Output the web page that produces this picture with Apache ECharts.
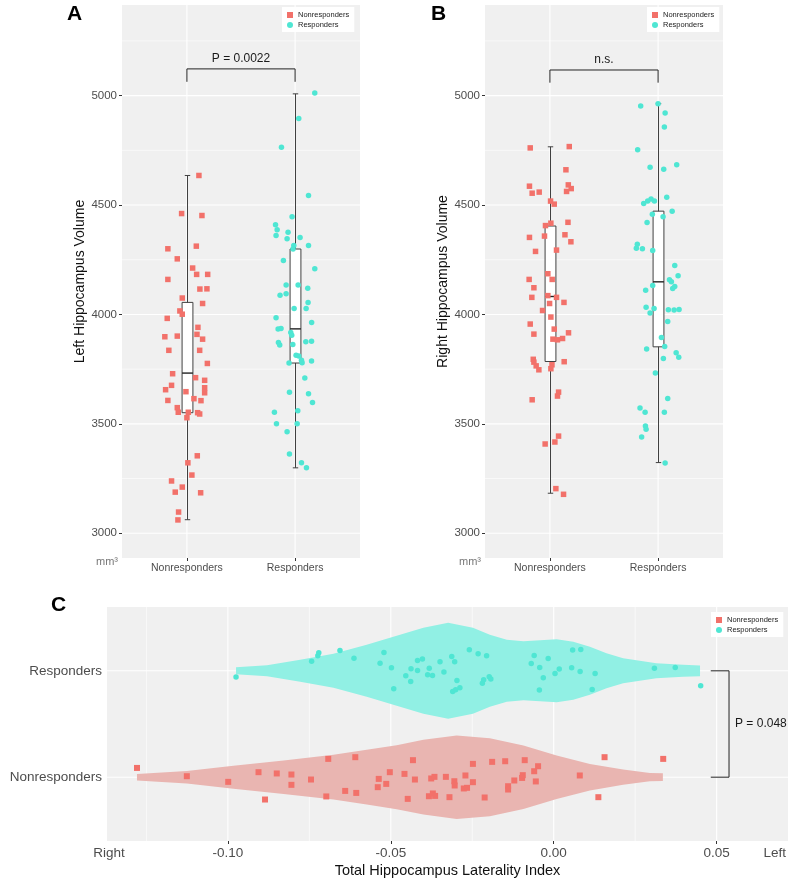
<!DOCTYPE html>
<html>
<head>
<meta charset="utf-8">
<script src="https://cdn.jsdelivr.net/npm/echarts@6/dist/echarts.min.js"></script>
<style>
html,body{margin:0;padding:0;background:#fff;}
#chart{width:790px;height:883px;}
</style>
</head>
<body>
<div id="chart"></div>
<script>
// ---------------- DATA ----------------
const categories = ['Nonresponders', 'Responders'];
const yTicksAB = [3000, 3500, 4000, 4500, 5000];
const yMinorAB = [3250, 3750, 4250, 4750, 5250];
const xTicksC = [-0.10, -0.05, 0.00, 0.05];
const xTickLabelsC = ['-0.10', '-0.05', '0.00', '0.05'];
const xMinorC = [-0.125, -0.075, -0.025, 0.025];
const sideLabelsC = ['Right', 'Left'];

// boxplots: [group, lowerWhisker, Q1, median, Q3, upperWhisker]
const boxLeft = [[1, 3062, 3551, 3732, 4055, 4635], [2, 3299, 3778, 3934, 4299, 5008]];
const boxRight = [[1, 3183, 3785, 4082, 4404, 4766], [2, 3323, 3852, 4149, 4472, 4963]];

// significance: [group1, group2, top, bottom]
const sigLeft = [[1, 2, 5122, 5063]];
const sigLeftText = 'P = 0.0022';
const sigRight = [[1, 2, 5117, 5059]];
const sigRightText = 'n.s.';
const sigLat = [[1, 2, 0.0538, 0.0482]];
const sigLatText = 'P = 0.048';

// jittered points [group position, volume]
const leftNon = [[1.111,4635],[0.951,4461],[1.139,4452],[0.824,4300],[1.087,4312],[0.911,4254],[1.053,4212],[1.090,4183],[1.192,4183],[0.824,4160],[1.120,4116],[1.185,4117],[0.957,4075],[1.145,4050],[0.935,4016],[0.957,4001],[0.818,3982],[0.911,3901],[0.796,3898],[1.102,3941],[1.093,3909],[1.145,3887],[0.833,3836],[1.118,3836],[1.189,3776],[0.868,3729],[1.080,3711],[1.164,3699],[0.858,3676],[1.164,3665],[0.803,3656],[0.991,3647],[1.164,3642],[0.824,3607],[1.065,3615],[1.130,3606],[0.911,3574],[0.920,3553],[1.013,3553],[1.099,3551],[1.118,3545],[1.000,3528],[1.096,3354],[1.009,3322],[1.046,3266],[0.858,3239],[0.957,3211],[0.892,3188],[1.127,3185],[0.923,3097],[0.917,3061]];
const leftRes = [[2.182,5012],[2.034,4895],[1.874,4764],[2.124,4543],[1.972,4446],[1.819,4410],[1.834,4387],[1.935,4375],[1.824,4361],[1.926,4346],[2.046,4352],[1.988,4315],[2.124,4315],[1.981,4299],[1.892,4247],[2.182,4209],[1.917,4134],[2.028,4135],[2.117,4120],[1.917,4094],[1.861,4088],[2.120,4055],[2.102,4027],[1.991,4027],[1.824,3985],[2.153,3963],[1.843,3934],[1.870,3936],[1.960,3918],[1.969,3905],[2.099,3875],[2.152,3878],[1.846,3872],[1.858,3860],[1.979,3863],[2.009,3814],[2.034,3810],[2.059,3791],[2.152,3787],[1.944,3778],[2.065,3779],[2.090,3709],[1.948,3644],[2.124,3637],[2.161,3598],[1.809,3553],[2.025,3560],[1.828,3500],[2.019,3500],[1.926,3464],[1.948,3362],[2.059,3322],[2.105,3299]];
const rightNon = [[0.818,4761],[1.179,4767],[1.148,4661],[0.811,4586],[0.836,4554],[0.901,4559],[1.170,4592],[1.197,4575],[1.154,4562],[1.006,4518],[1.040,4504],[1.009,4417],[0.959,4406],[1.167,4421],[0.811,4352],[0.950,4358],[1.139,4364],[1.194,4332],[0.867,4288],[1.061,4294],[0.808,4160],[0.981,4186],[1.021,4160],[0.852,4122],[0.833,4078],[0.981,4086],[1.061,4078],[0.997,4050],[1.130,4055],[0.932,4018],[1.009,3988],[0.818,3956],[0.852,3910],[1.040,3933],[1.172,3916],[1.028,3887],[1.070,3884],[1.117,3890],[0.846,3795],[0.852,3782],[1.132,3784],[0.873,3765],[1.019,3770],[0.898,3747],[1.009,3752],[1.080,3645],[1.070,3627],[0.836,3610],[1.080,3444],[0.956,3408],[1.046,3417],[1.055,3204],[1.126,3178]];
const rightRes = [[2.000,4963],[1.839,4953],[2.065,4921],[2.058,4856],[1.811,4752],[1.926,4673],[2.172,4684],[2.052,4664],[2.080,4536],[1.867,4507],[1.904,4518],[1.935,4527],[1.966,4518],[2.130,4472],[1.947,4458],[2.046,4446],[1.898,4420],[1.808,4321],[1.799,4303],[1.855,4300],[1.950,4292],[2.154,4224],[2.185,4177],[2.105,4158],[2.123,4149],[2.154,4128],[1.950,4132],[2.135,4119],[1.885,4110],[1.889,4033],[1.963,4027],[1.926,4007],[2.095,4021],[2.148,4020],[2.194,4023],[2.089,3968],[2.031,3895],[1.894,3842],[2.061,3854],[2.167,3825],[2.049,3799],[2.191,3804],[1.975,3732],[2.089,3616],[1.833,3572],[1.880,3553],[2.058,3553],[1.883,3490],[1.889,3475],[1.848,3440],[2.065,3321]];

// laterality index points [index, group position]
const latRes = [[-0.0975,1.941],[-0.0743,2.091],[-0.0724,2.141],[-0.0721,2.169],[-0.0656,2.191],[-0.0613,2.119],[-0.0533,2.072],[-0.0521,2.172],[-0.0498,2.028],[-0.0491,1.831],[-0.0454,1.953],[-0.0439,1.900],[-0.0438,2.019],[-0.0418,2.097],[-0.0403,2.110],[-0.0418,2.003],[-0.0387,1.962],[-0.0382,2.025],[-0.0372,1.956],[-0.0349,2.085],[-0.0337,1.988],[-0.0313,2.134],[-0.0304,2.085],[-0.0297,1.909],[-0.0310,1.805],[-0.0301,1.821],[-0.0288,1.840],[-0.0259,2.197],[-0.0232,2.160],[-0.0206,2.141],[-0.0198,1.944],[-0.0193,1.922],[-0.0219,1.884],[-0.0215,1.915],[-0.0060,2.144],[-0.0069,2.069],[-0.0043,2.031],[-0.0017,2.116],[-0.0032,1.934],[-0.0044,1.819],[0.0004,1.975],[0.0017,2.016],[0.0055,2.028],[0.0058,2.195],[0.0083,2.200],[0.0081,1.993],[0.0127,1.975],[0.0118,1.824],[0.0309,2.025],[0.0373,2.031],[0.0451,1.859]];
const latNon = [[-0.1279,1.087],[-0.1126,1.009],[-0.0999,0.956],[-0.0906,1.047],[-0.0886,0.790],[-0.0850,1.035],[-0.0805,1.025],[-0.0805,0.928],[-0.0745,0.978],[-0.0692,1.172],[-0.0698,0.819],[-0.0640,0.871],[-0.0609,1.188],[-0.0606,0.852],[-0.0537,0.984],[-0.0540,0.906],[-0.0514,0.937],[-0.0503,1.047],[-0.0458,1.031],[-0.0432,1.160],[-0.0426,0.978],[-0.0448,0.796],[-0.0383,0.821],[-0.0376,0.988],[-0.0366,1.003],[-0.0371,0.847],[-0.0364,0.824],[-0.0331,1.003],[-0.0320,0.812],[-0.0305,0.962],[-0.0304,0.922],[-0.0271,1.016],[-0.0276,0.894],[-0.0266,0.900],[-0.0248,0.953],[-0.0248,1.125],[-0.0212,0.809],[-0.0189,1.144],[-0.0149,1.150],[-0.0140,0.915],[-0.0140,0.884],[-0.0121,0.969],[-0.0097,0.993],[-0.0095,1.019],[-0.0089,1.160],[-0.0060,1.056],[-0.0048,1.103],[-0.0055,0.960],[0.0080,1.016],[0.0137,0.812],[0.0156,1.188],[0.0336,1.172]];

// violin outlines: index positions and half widths (in group units)
const violinResX = [-0.0975,-0.0880,-0.0778,-0.0676,-0.0574,-0.0482,-0.0400,-0.0324,-0.0248,-0.0196,-0.0144,-0.0093,-0.0042,0.0009,0.0060,0.0111,0.0162,0.0213,0.0315,0.0397,0.0449];
const violinResW = [0.033,0.052,0.103,0.160,0.244,0.329,0.404,0.451,0.404,0.338,0.291,0.277,0.287,0.296,0.273,0.226,0.164,0.117,0.070,0.056,0.050];
const violinNonX = [-0.1279,-0.1126,-0.0983,-0.0829,-0.0676,-0.0574,-0.0482,-0.0400,-0.0298,-0.0196,-0.0093,0.0009,0.0111,0.0213,0.0295,0.0335];
const violinNonW = [0.031,0.059,0.108,0.157,0.211,0.258,0.301,0.352,0.392,0.367,0.298,0.204,0.125,0.072,0.039,0.036];

// ---------------- STYLE ----------------
const FONT = "'Liberation Sans', Arial, sans-serif";
const RED = '#f2716a';
const CYAN = '#4fe6d3';
const PANEL = '#f0f0f0';
const LINE = '#404040';

function gridLines(xi, yi, values, orient, mid, width) {
  return {
    type: 'custom', xAxisIndex: xi, yAxisIndex: yi, z: 1, silent: true,
    data: values.map(v => orient === 'h' ? [mid, v] : [v, mid]),
    encode: {x: 0, y: 1},
    renderItem: function (params, api) {
      const cs = params.coordSys;
      const p = api.coord([api.value(0), api.value(1)]);
      if (orient === 'h') {
        return {type: 'line', shape: {x1: cs.x, y1: p[1], x2: cs.x + cs.width, y2: p[1]}, style: {stroke: '#fff', lineWidth: width}};
      }
      return {type: 'line', shape: {x1: p[0], y1: cs.y, x2: p[0], y2: cs.y + cs.height}, style: {stroke: '#fff', lineWidth: width}};
    }
  };
}

function boxSeries(xi, yi, data) {
  return {
    type: 'custom', xAxisIndex: xi, yAxisIndex: yi, z: 3, silent: true,
    data: data, encode: {x: 0, y: [1, 2, 3, 4, 5]},
    renderItem: function (params, api) {
      const x = api.value(0);
      const lo = api.coord([x, api.value(1)]);
      const q1 = api.coord([x, api.value(2)]);
      const md = api.coord([x, api.value(3)]);
      const q3 = api.coord([x, api.value(4)]);
      const hi = api.coord([x, api.value(5)]);
      const bw = api.size([0.05, 0])[0];
      const cw = api.size([0.025, 0])[0];
      const cx = Math.round(lo[0]) + 0.5;
      const st = {stroke: LINE, lineWidth: 1};
      return {type: 'group', children: [
        {type: 'line', shape: {x1: cx, y1: lo[1], x2: cx, y2: hi[1]}, style: st},
        {type: 'line', shape: {x1: cx - cw, y1: lo[1], x2: cx + cw, y2: lo[1]}, style: st},
        {type: 'line', shape: {x1: cx - cw, y1: hi[1], x2: cx + cw, y2: hi[1]}, style: st},
        {type: 'rect', shape: {x: cx - bw, y: q3[1], width: 2 * bw, height: q1[1] - q3[1]}, style: {fill: '#fff', stroke: LINE, lineWidth: 1}},
        {type: 'line', shape: {x1: cx - bw, y1: md[1], x2: cx + bw, y2: md[1]}, style: {stroke: '#222', lineWidth: 1.4}}
      ]};
    }
  };
}

function bracketH(xi, yi, data, text) {
  return {
    type: 'custom', xAxisIndex: xi, yAxisIndex: yi, z: 5, silent: true,
    data: data, encode: {x: [0, 1], y: [2, 3]},
    renderItem: function (params, api) {
      const a = api.coord([api.value(0), api.value(2)]);
      const b = api.coord([api.value(1), api.value(3)]);
      return {type: 'group', children: [
        {type: 'polyline', shape: {points: [[a[0], b[1]], [a[0], a[1]], [b[0], a[1]], [b[0], b[1]]]}, style: {stroke: '#222', lineWidth: 1, fill: null}},
        {type: 'text', style: {text: text, x: (a[0] + b[0]) / 2, y: a[1] - 4, align: 'center', verticalAlign: 'bottom', fontSize: 12, fontFamily: FONT, fill: '#1a1a1a'}}
      ]};
    }
  };
}

function bracketV(xi, yi, data, text) {
  return {
    type: 'custom', xAxisIndex: xi, yAxisIndex: yi, z: 5, silent: true,
    data: data.map(d => [d[2], d[0], d[3], d[1]]), encode: {x: [0, 2], y: [1, 3]},
    renderItem: function (params, api) {
      const p1 = api.coord([api.value(0), api.value(1)]);
      const p2 = api.coord([api.value(0), api.value(3)]);
      const t = api.coord([api.value(2), api.value(1)]);
      return {type: 'group', children: [
        {type: 'polyline', shape: {points: [[t[0], p1[1]], [p1[0], p1[1]], [p1[0], p2[1]], [t[0], p2[1]]]}, style: {stroke: '#222', lineWidth: 1, fill: null}},
        {type: 'text', style: {text: text, x: p1[0] + 6, y: (p1[1] + p2[1]) / 2, align: 'left', verticalAlign: 'middle', fontSize: 12, fontFamily: FONT, fill: '#1a1a1a'}}
      ]};
    }
  };
}

function violinSeries(xs, ws, center, color) {
  return {
    type: 'custom', xAxisIndex: 2, yAxisIndex: 2, z: 2, silent: true,
    data: [[xs[0], center]], encode: {x: 0, y: 1},
    renderItem: function (params, api) {
      const top = xs.map((x, i) => api.coord([x, center + ws[i]]));
      const bot = xs.map((x, i) => api.coord([x, center - ws[i]])).reverse();
      return {type: 'polygon', shape: {points: top.concat(bot), smooth: 0}, style: {fill: color}};
    }
  };
}

function points(name, xi, yi, data, symbol, color, size) {
  return {type: 'scatter', name: name, xAxisIndex: xi, yAxisIndex: yi, z: 4, data: data,
    symbol: symbol, symbolSize: size, itemStyle: {color: color, opacity: 1}, silent: true};
}

const tickStyle = {length: 3, lineStyle: {color: '#333'}};
const labFont = {fontFamily: FONT, color: '#4d4d4d'};

function catXAxis(gi) {
  return {gridIndex: gi, type: 'value', min: 0.4, max: 2.6,
    axisLine: {show: false}, splitLine: {show: false},
    axisTick: Object.assign({customValues: [1, 2]}, tickStyle),
    axisLabel: Object.assign({customValues: [1, 2], fontSize: 10.5, margin: 5,
      formatter: v => categories[Math.round(v) - 1]}, labFont)};
}
function volYAxis(gi, name) {
  return {gridIndex: gi, type: 'value', min: 2887, max: 5414,
    name: name, nameLocation: 'middle', nameGap: 27,
    nameTextStyle: {fontSize: 14, color: '#111', fontFamily: FONT},
    axisLine: {show: false}, splitLine: {show: false},
    axisTick: Object.assign({customValues: yTicksAB}, tickStyle),
    axisLabel: Object.assign({customValues: yTicksAB, fontSize: 11.5, margin: 5,
      formatter: v => String(Math.round(v))}, labFont)};
}

const sidePos = [-0.1365, 0.0678];

const legendBase = {
  orient: 'vertical', backgroundColor: '#fff', padding: [4, 5, 3, 5], itemGap: 2,
  itemWidth: 6, itemHeight: 6, selectedMode: false,
  textStyle: {fontSize: 7.5, color: '#222', fontFamily: FONT},
  data: [{name: 'Nonresponders', icon: 'rect'}, {name: 'Responders', icon: 'circle'}]
};

const option = {
  animation: false,
  backgroundColor: '#fff',
  grid: [
    {left: 122, top: 5, width: 238, height: 553, show: true, backgroundColor: PANEL, borderWidth: 0},
    {left: 485, top: 5, width: 238, height: 553, show: true, backgroundColor: PANEL, borderWidth: 0},
    {left: 107, top: 607, width: 681, height: 234, show: true, backgroundColor: PANEL, borderWidth: 0}
  ],
  legend: [
    Object.assign({left: 282, top: 7}, legendBase),
    Object.assign({left: 647, top: 7}, legendBase),
    Object.assign({left: 711, top: 612}, legendBase)
  ],
  xAxis: [
    catXAxis(0), catXAxis(1),
    {gridIndex: 2, type: 'value', min: -0.1371, max: 0.0719,
      name: 'Total Hippocampus Laterality Index', nameLocation: 'middle', nameGap: 22,
      nameTextStyle: {fontSize: 14.5, color: '#111', fontFamily: FONT},
      axisLine: {show: false}, splitLine: {show: false},
      axisTick: Object.assign({customValues: xTicksC}, tickStyle),
      axisLabel: Object.assign({customValues: xTicksC.concat(sidePos), fontSize: 13.5, margin: 5,
        formatter: function (v) {
          for (let i = 0; i < xTicksC.length; i++) if (Math.abs(v - xTicksC[i]) < 1e-6) return xTickLabelsC[i];
          return Math.abs(v - sidePos[0]) < 1e-6 ? sideLabelsC[0] : sideLabelsC[1];
        }}, labFont)}
  ],
  yAxis: [
    volYAxis(0, 'Left Hippocampus Volume'),
    volYAxis(1, 'Right Hippocampus Volume'),
    {gridIndex: 2, type: 'value', min: 0.4, max: 2.6,
      axisLine: {show: false}, splitLine: {show: false},
      axisTick: Object.assign({customValues: [1, 2]}, tickStyle),
      axisLabel: Object.assign({customValues: [1, 2], fontSize: 13.5, margin: 5,
        formatter: v => categories[Math.round(v) - 1]}, labFont)}
  ],
  graphic: [
    {type: 'text', left: 67, top: 4, style: {text: 'A', font: 'bold 21px ' + FONT, fill: '#000'}},
    {type: 'text', left: 431, top: 4, style: {text: 'B', font: 'bold 21px ' + FONT, fill: '#000'}},
    {type: 'text', left: 51, top: 595, style: {text: 'C', font: 'bold 21px ' + FONT, fill: '#000'}},
    {type: 'text', left: 96, top: 556, style: {text: 'mm³', font: '11px ' + FONT, fill: '#777'}},
    {type: 'text', left: 459, top: 556, style: {text: 'mm³', font: '11px ' + FONT, fill: '#777'}}
  ],
  series: [
    gridLines(0, 0, yMinorAB, 'h', 1.5, 0.6),
    gridLines(0, 0, yTicksAB, 'h', 1.5, 1.1),
    gridLines(0, 0, [1, 2], 'v', 4000, 1.1),
    gridLines(1, 1, yMinorAB, 'h', 1.5, 0.6),
    gridLines(1, 1, yTicksAB, 'h', 1.5, 1.1),
    gridLines(1, 1, [1, 2], 'v', 4000, 1.1),
    gridLines(2, 2, xMinorC, 'v', 1.5, 0.6),
    gridLines(2, 2, xTicksC, 'v', 1.5, 1.1),
    gridLines(2, 2, [1, 2], 'h', 0, 1.1),
    boxSeries(0, 0, boxLeft),
    boxSeries(1, 1, boxRight),
    bracketH(0, 0, sigLeft, sigLeftText),
    bracketH(1, 1, sigRight, sigRightText),
    violinSeries(violinResX, violinResW, 2, '#91f0e4'),
    violinSeries(violinNonX, violinNonW, 1, '#e9b5b1'),
    bracketV(2, 2, sigLat, sigLatText),
    points('Nonresponders', 0, 0, leftNon, 'rect', RED, 5.5),
    points('Responders', 0, 0, leftRes, 'circle', CYAN, 5.5),
    points('Nonresponders', 1, 1, rightNon, 'rect', RED, 5.5),
    points('Responders', 1, 1, rightRes, 'circle', CYAN, 5.5),
    points('Nonresponders', 2, 2, latNon, 'rect', RED, 6),
    points('Responders', 2, 2, latRes, 'circle', CYAN, 5.5)
  ]
};

const chart = echarts.init(document.getElementById('chart'), null, {renderer: 'canvas'});
chart.setOption(option);
</script>
</body>
</html>
